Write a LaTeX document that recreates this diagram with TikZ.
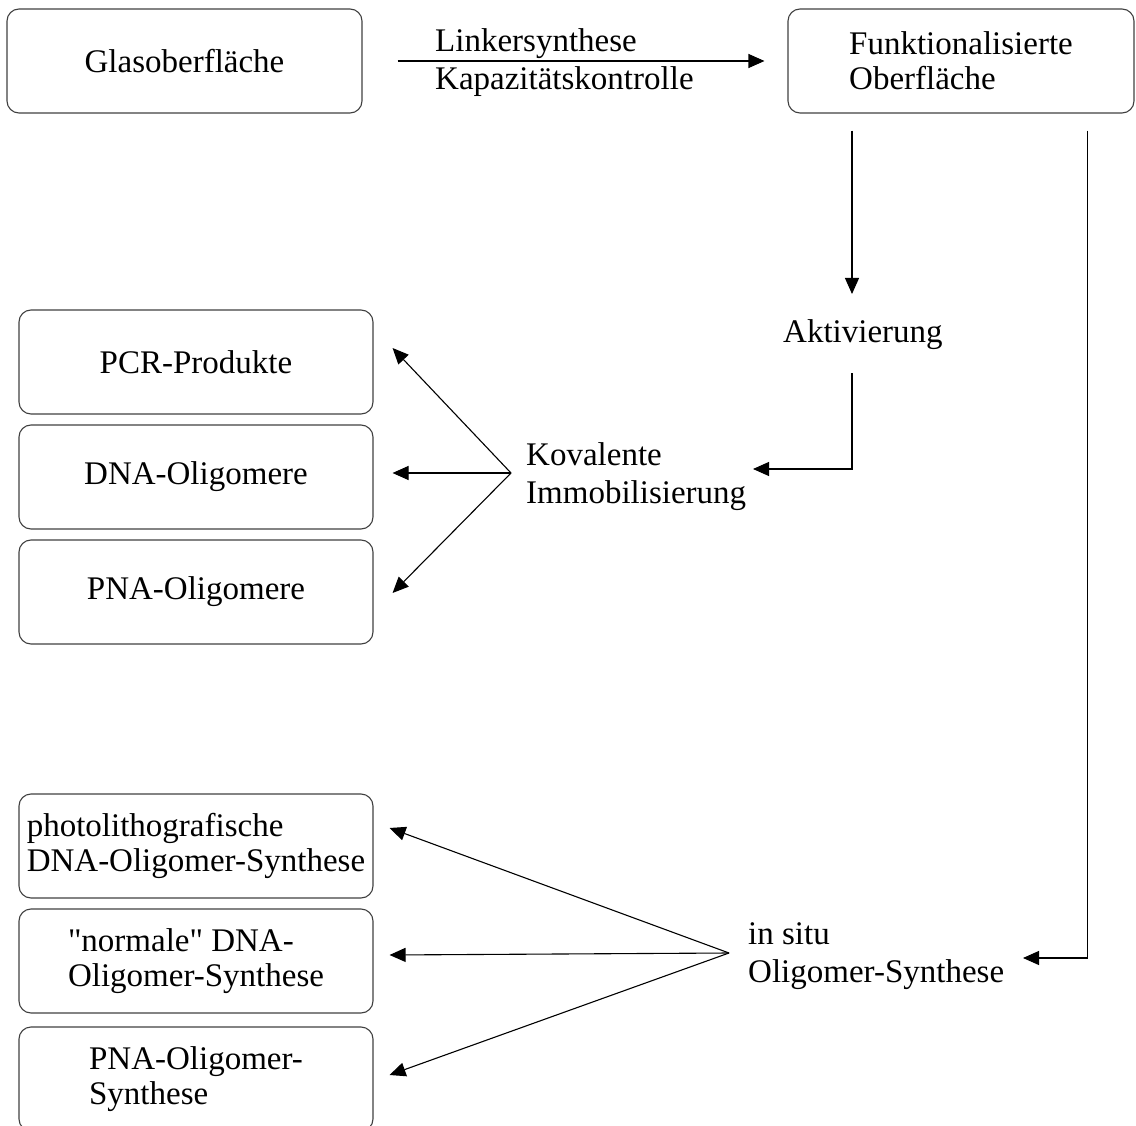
\documentclass[tikz,border=0pt]{standalone}
\usepackage{fontspec}
\setmainfont[Ligatures=TeXOff]{Liberation Serif}
\usetikzlibrary{arrows.meta,calc}
\begin{document}
\begin{tikzpicture}[x=1pt,y=-1pt,
  box/.style={draw=black!75, line width=1.1pt, rounded corners=12pt,
    minimum width=354pt, minimum height=104pt, inner sep=0pt, align=left,
    font=\fontsize{33}{35}\selectfont},
  lbl/.style={inner sep=0pt, anchor=base west, align=left,
    font=\fontsize{33}{38}\selectfont},
  arr/.style={line width=1.1pt, -{Triangle[length=16pt,width=14pt]}}]
\clip (0,0) rectangle (1136,1126);
% boxes
\node[box, minimum width=355pt] (glas) at (184.5,61) {Glasoberfläche};
\node[box, minimum width=346pt] (funk) at (961,61) {Funktionalisierte\\Oberfläche};
\node[box] (pcr) at (196,362) {PCR-Produkte};
\node[box] (dnao) at (196,477) {DNA-Oligomere};
\node[box] (pnao) at (196,592) {PNA-Oligomere};
\node[box] (photo) at (196,846) {photolithografische\\DNA-Oligomer-Synthese};
\node[box] (normal) at (196,961) {"normale" DNA-\\Oligomer-Synthese};
\node[box] (pnas) at (196,1079) {PNA-Oligomer-\\Synthese};
% labels (base = baseline of last line)
\node[lbl] (link) at (435,90) {Linkersynthese\\Kapazitätskontrolle};
\node[lbl] (akt) at (783,342) {Aktivierung};
\node[lbl] (kov) at (526,503) {Kovalente\\Immobilisierung};
\node[lbl] (insitu) at (748,982) {in situ\\Oligomer-Synthese};
% connector points
\coordinate (aktin) at (852,294);
\coordinate (aktout) at (852,373);
\coordinate (kovin) at (753,469);
\coordinate (kf) at (511,473);
\coordinate (isin) at (1023,958);
\coordinate (isf) at (729,953);
% connectors
\draw[arr, shorten <=35pt, shorten >=23pt] (glas.east) -- (funk.west);
\draw[arr] ($(funk.south)+(-109,17)$) -- (aktin);
\draw[arr] (aktout) |- (kovin);
\draw[arr] ($(funk.south east)+(-47,17)$) |- (isin);
\draw[arr] (kf) -- ($(pcr.east)+(19,-14)$);
\draw[arr] (kf) -- ($(dnao.east)+(19,-4)$);
\draw[arr] (kf) -- ($(pnao.east)+(19,1)$);
\draw[arr] (isf) -- ($(photo.east)+(16,-18)$);
\draw[arr] (isf) -- ($(normal.east)+(16,-6)$);
\draw[arr] (isf) -- ($(pnas.east)+(16,-4)$);
\end{tikzpicture}
\end{document}
